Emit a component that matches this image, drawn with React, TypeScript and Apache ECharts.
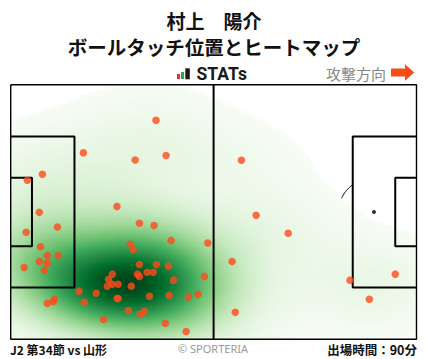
import React, { useEffect, useRef } from "react";
import * as echarts from "echarts";

// Pitch (metres) – y measured from the top touchline
const PITCH_LENGTH = 105;
const PITCH_WIDTH = 68;

// Ball touch positions (metres)
const touchX = [
  37.6, 18.8, 32.2, 40.2, 8.2, 4.3, 27.5, 7.4, 33.3, 37.1, 12.1, 4.0, 41.5, 51.0, 30.9, 31.7,
  7.7, 9.5, 12.3, 7.4, 9.5, 3.5, 8.7, 33.3, 37.7, 40.8, 35.3, 36.9, 32.8, 33.3, 26.3, 25.3,
  26.3, 27.8, 25.0, 31.2, 42.1, 50.1, 17.7, 22.1, 19.0, 27.5, 27.8, 35.9, 41.0, 46.0, 48.5, 9.5,
  11.0, 11.3, 30.4, 34.6, 33.5, 24.0, 40.0, 45.4, 59.7, 63.5, 71.8, 57.3, 58.1, 87.8, 99.5, 92.8,
];
const touchY = [
  9.5, 18.2, 20.1, 18.9, 23.9, 25.5, 32.5, 34.1, 37.0, 37.6, 38.0, 39.4, 41.6, 42.3, 42.6, 44.0,
  43.3, 45.6, 45.6, 47.2, 47.7, 48.8, 49.6, 48.0, 48.0, 48.5, 50.1, 50.1, 50.6, 51.2, 50.6, 52.0,
  53.3, 53.3, 53.8, 53.8, 52.2, 51.2, 55.2, 55.7, 58.1, 57.1, 57.1, 56.5, 56.3, 56.8, 56.0, 58.4,
  57.9, 57.3, 60.3, 60.5, 61.3, 62.7, 63.7, 65.9, 20.2, 34.9, 39.7, 47.2, 60.8, 52.2, 50.6, 57.3,
];

// Points (metres) read on the edge of the unshaded area, used to set the lowest shaded level
const edgeX = [51.6, 60.1, 73.1, 80.0, 86.0, 92.9, 105, 0, 24.3];
const edgeY = [2.2, 7.6, 14.0, 23.6, 32.7, 37.0, 39.6, 8.9, 0.6];

const GREENS = ["#f7fcf5", "#e5f5e0", "#c7e9c0", "#a1d99b", "#74c476", "#41ab5d", "#238b45", "#006d2c", "#00441b"];

const TITLE_NAME = "村上　陽介";
const TITLE_SUB = "ボールタッチ位置とヒートマップ";
const MATCH_LABEL = "J2 第34節 vs 山形";
const MINUTES_LABEL = "出場時間：90分";

function buildKde(xs: number[], ys: number[], adjust: number) {
  const n = xs.length;
  const mx = xs.reduce((a, b) => a + b, 0) / n;
  const my = ys.reduce((a, b) => a + b, 0) / n;
  let sxx = 0, syy = 0, sxy = 0;
  for (let i = 0; i < n; i++) {
    const dx = xs[i] - mx, dy = ys[i] - my;
    sxx += dx * dx; syy += dy * dy; sxy += dx * dy;
  }
  sxx /= n - 1; syy /= n - 1; sxy /= n - 1;
  const f = Math.pow(n, -1 / 6) * adjust;
  const a = sxx * f * f, b = sxy * f * f, c = syy * f * f;
  const det = a * c - b * b;
  const ia = c / det, ib = -b / det, ic = a / det;
  return (px: number, py: number) => {
    let s = 0;
    for (let i = 0; i < n; i++) {
      const dx = px - xs[i], dy = py - ys[i];
      s += Math.exp(-0.5 * (ia * dx * dx + 2 * ib * dx * dy + ic * dy * dy));
    }
    return s;
  };
}

function rectPath(x0: number, y0: number, x1: number, y1: number) {
  return [[x0, y0], [x1, y0], [x1, y1], [x0, y1], [x0, y0]];
}

export default function App() {
  const ref = useRef<HTMLDivElement>(null);
  useEffect(() => {
    if (!ref.current) return;
    const chart = echarts.init(ref.current, undefined, { renderer: "svg" });

    const fn = buildKde(touchX, touchY, 1.2);
    const edgeVals = edgeX.map((x, i) => fn(x, edgeY[i]));
    const thr = edgeVals.reduce((a, b) => a + b, 0) / edgeVals.length;

    const NX = 150, NY = 96;
    const cw = PITCH_LENGTH / NX, ch = PITCH_WIDTH / NY;
    const heat: number[][] = [];
    let maxD = 0;
    for (let i = 0; i < NX; i++) {
      for (let j = 0; j < NY; j++) {
        const v = fn((i + 0.5) * cw, (j + 0.5) * ch);
        if (v > maxD) maxD = v;
        if (v >= thr) heat.push([i * cw, j * ch, v]);
      }
    }

    const L = PITCH_LENGTH, W = PITCH_WIDTH;
    const pbD = 16.5, pbH = 40.32, gaD = 5.5, gaH = 18.32;
    const pbTop = (W - pbH) / 2, gaTop = (W - gaH) / 2;
    const spotD = 11, R = 9.15;

    const arcPts = (cx: number, cy: number, a0: number, a1: number) => {
      const pts: number[][] = [];
      for (let k = 0; k <= 60; k++) {
        const t = a0 + ((a1 - a0) * k) / 60;
        pts.push([cx + R * Math.cos(t), cy + R * Math.sin(t)]);
      }
      return pts;
    };
    const aR = Math.acos((pbD - spotD) / R);

    const lineSeries = (data: number[][], width: number, z: number) => ({
      type: "line",
      data,
      showSymbol: false,
      symbol: "none",
      silent: true,
      z,
      lineStyle: { color: "#000", width },
      clip: false,
    });

    const textFont = "'Noto Sans CJK JP', 'Noto Sans', sans-serif";

    chart.setOption({
      animation: false,
      backgroundColor: "#ffffff",
      grid: { left: 10.7, top: 84.7, width: 405.8, height: 254.6 },
      xAxis: { type: "value", min: 0, max: L, show: false },
      yAxis: { type: "value", min: 0, max: W, inverse: true, show: false },
      visualMap: {
        show: false,
        type: "continuous",
        seriesIndex: 4,
        dimension: 2,
        min: thr,
        max: maxD,
        inRange: { color: GREENS },
      },
      series: [
        // markings under the heat layer
        lineSeries(arcPts(L - spotD, W / 2, Math.PI - aR, Math.PI + aR), 1, 1),
        lineSeries(arcPts(spotD, W / 2, -aR, aR), 1, 1),
        lineSeries(arcPts(L / 2, W / 2, 0, Math.PI * 2), 1, 1),
        {
          type: "scatter",
          data: [[spotD, W / 2], [L - spotD, W / 2], [L / 2, W / 2]],
          symbolSize: 4,
          itemStyle: { color: "#000" },
          z: 1,
          silent: true,
        },
        {
          type: "custom",
          z: 2,
          silent: true,
          data: heat,
          encode: { x: 0, y: 1 },
          renderItem: (params: any, api: any) => {
            const x0 = api.value(0), y0 = api.value(1);
            const p0 = api.coord([x0, y0]);
            const p1 = api.coord([x0 + cw, y0 + ch]);
            return {
              type: "rect",
              shape: {
                x: Math.min(p0[0], p1[0]) - 0.35,
                y: Math.min(p0[1], p1[1]) - 0.35,
                width: Math.abs(p1[0] - p0[0]) + 0.7,
                height: Math.abs(p1[1] - p0[1]) + 0.7,
              },
              style: { fill: api.visual("color") },
            };
          },
        },
        // markings above the heat layer
        lineSeries(rectPath(0, 0, L, W), 1.4, 3),
        lineSeries([[L / 2, 0], [L / 2, W]], 2, 3),
        lineSeries([[0, pbTop], [pbD, pbTop], [pbD, pbTop + pbH], [0, pbTop + pbH]], 2, 3),
        lineSeries([[0, gaTop], [gaD, gaTop], [gaD, gaTop + gaH], [0, gaTop + gaH]], 2, 3),
        lineSeries([[L, pbTop], [L - pbD, pbTop], [L - pbD, pbTop + pbH], [L, pbTop + pbH]], 2, 3),
        lineSeries([[L, gaTop], [L - gaD, gaTop], [L - gaD, gaTop + gaH], [L, gaTop + gaH]], 2, 3),
        {
          type: "scatter",
          data: touchX.map((x, i) => [x, touchY[i]]),
          symbolSize: 7.5,
          itemStyle: { color: "#ff4a1c" },
          z: 5,
          silent: true,
        },
      ],
      graphic: [
        {
          type: "text", x: 214, y: 20,
          style: { text: TITLE_NAME, fontSize: 19, fontWeight: "bold", fontFamily: textFont, fill: "#111", align: "center", verticalAlign: "middle" },
        },
        {
          type: "text", x: 214, y: 46.5,
          style: { text: TITLE_SUB, fontSize: 19.5, fontWeight: "bold", fontFamily: textFont, fill: "#111", align: "center", verticalAlign: "middle" },
        },
        { type: "rect", shape: { x: 177, y: 74, width: 3, height: 5 }, style: { fill: "#e8322a" } },
        { type: "rect", shape: { x: 181, y: 72, width: 3, height: 7 }, style: { fill: "#2aa84a" } },
        { type: "rect", shape: { x: 185.3, y: 68.3, width: 4.5, height: 11 }, style: { fill: "#1a1a1a" } },
        {
          type: "text", x: 196.5, y: 74,
          style: { text: "STATs", fontSize: 17.5, fontWeight: "bold", fontFamily: "Roboto, 'Noto Sans', sans-serif", fill: "#1a1a1a", align: "left", verticalAlign: "middle" },
        },
        {
          type: "text", x: 326, y: 73,
          style: { text: "攻撃方向", fontSize: 15, fontFamily: textFont, fill: "#888", align: "left", verticalAlign: "middle" },
        },
        {
          type: "polygon",
          shape: { points: [[391, 68.5], [405, 68.5], [405, 64.3], [414.3, 72.5], [405, 80.7], [405, 76.5], [391, 76.5]] },
          style: { fill: "#fa4d16" },
        },
        {
          type: "text", x: 10, y: 349,
          style: { text: MATCH_LABEL, fontSize: 12, fontWeight: "bold", fontFamily: textFont, fill: "#111", align: "left", verticalAlign: "middle" },
        },
        {
          type: "text", x: 213, y: 348,
          style: { text: "© SPORTERIA", fontSize: 11, fontFamily: "'Noto Sans', sans-serif", fill: "#999", align: "center", verticalAlign: "middle" },
        },
        {
          type: "text", x: 417, y: 349,
          style: { text: MINUTES_LABEL, fontSize: 12.5, fontWeight: "bold", fontFamily: textFont, fill: "#111", align: "right", verticalAlign: "middle" },
        },
      ],
    });
    return () => chart.dispose();
  }, []);
  return <div ref={ref} style={{ width: 428, height: 359, position: "absolute", left: 0, top: 0 }} />;
}
